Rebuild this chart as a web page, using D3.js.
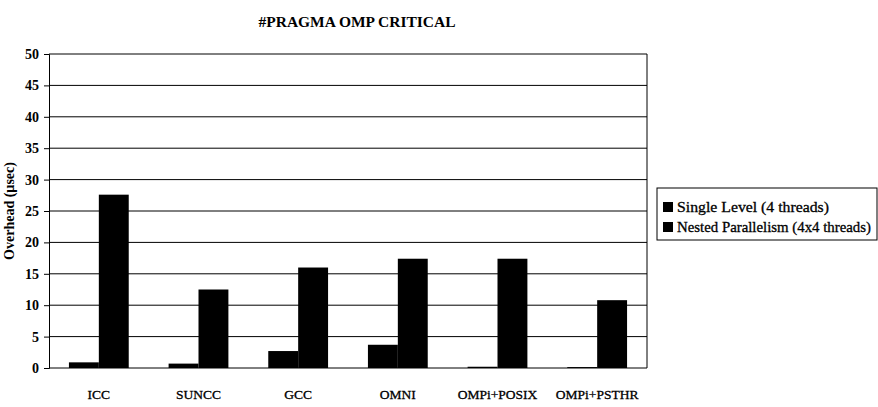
<!DOCTYPE html>
<html>
<head>
  <meta charset="utf-8">
  <title>#PRAGMA OMP CRITICAL</title>
  <script src="https://cdnjs.cloudflare.com/ajax/libs/d3/7.8.5/d3.min.js"></script>
  <style>
    body { margin: 0; background: #fff; }
    text { font-family: "Liberation Serif", "DejaVu Serif", serif; fill: #000; }
  </style>
</head>
<body>
<script>
const compilers = ['ICC', 'SUNCC', 'GCC', 'OMNI', 'OMPi+POSIX', 'OMPi+PSTHR'];
const seriesNames = ['Single Level (4 threads)', 'Nested Parallelism (4x4 threads)'];
const singleLevel = [0.9, 0.7, 2.7, 3.7, 0.2, 0.15];
const nested = [27.6, 12.5, 16.0, 17.4, 17.4, 10.8];
const yTicks = [0, 5, 10, 15, 20, 25, 30, 35, 40, 45, 50];

const width = 878;
const height = 407;
const plot = {left: 49, right: 647, top: 54, bottom: 368};

const svg = d3.select('body').append('svg')
  .attr('width', width)
  .attr('height', height);

const xScale = d3.scaleBand()
  .domain(compilers)
  .range([plot.left, plot.right])
  .paddingInner(0.4)
  .paddingOuter(0.2);

const inner = d3.scaleBand()
  .domain([0, 1])
  .range([0, xScale.bandwidth()]);

const yScale = d3.scaleLinear()
  .domain([0, 50])
  .range([plot.bottom, plot.top]);

// gridlines
svg.append('g')
  .selectAll('line')
  .data(yTicks)
  .enter()
  .append('line')
  .attr('x1', plot.left)
  .attr('x2', plot.right)
  .attr('y1', d => yScale(d))
  .attr('y2', d => yScale(d))
  .attr('stroke', '#000')
  .attr('stroke-width', 1);

// right border
svg.append('line')
  .attr('x1', plot.right).attr('x2', plot.right)
  .attr('y1', plot.top).attr('y2', plot.bottom)
  .attr('stroke', '#000');

// bars
const values = [singleLevel, nested];
const groups = svg.append('g')
  .selectAll('g')
  .data(compilers)
  .enter()
  .append('g')
  .attr('transform', d => `translate(${xScale(d)},0)`);

groups.selectAll('rect')
  .data((d, i) => values.map((v, s) => ({s: s, v: v[i]})))
  .enter()
  .append('rect')
  .attr('x', d => inner(d.s))
  .attr('width', inner.bandwidth())
  .attr('y', d => yScale(d.v))
  .attr('height', d => yScale(0) - yScale(d.v))
  .attr('fill', '#000');

// y axis
const yAxis = d3.axisLeft(yScale)
  .tickValues(yTicks)
  .tickSize(5)
  .tickPadding(5);

svg.append('g')
  .attr('transform', `translate(${plot.left},0)`)
  .call(yAxis)
  .call(g => g.selectAll('text')
    .attr('font-size', 14)
    .attr('font-weight', 'bold')
    .attr('font-family', '"Liberation Serif", serif'))
  .call(g => g.select('.domain').attr('stroke', '#000'));

// x axis labels
const xAxis = d3.axisBottom(xScale).tickSize(0).tickPadding(21);
svg.append('g')
  .attr('transform', `translate(0,${plot.bottom})`)
  .call(xAxis)
  .call(g => g.select('.domain').remove())
  .call(g => g.selectAll('text')
    .attr('font-size', 13.5)
    .attr('stroke', '#000')
    .attr('stroke-width', 0.3)
    .attr('font-family', '"Liberation Serif", serif'));

// title
svg.append('text')
  .attr('x', 357)
  .attr('y', 27)
  .attr('text-anchor', 'middle')
  .attr('font-size', 14.5)
  .attr('font-weight', 'bold')
  .attr('textLength', 197)
  .attr('lengthAdjust', 'spacingAndGlyphs')
  .text('#PRAGMA OMP CRITICAL');

// y label
svg.append('text')
  .attr('transform', `translate(14,${(plot.top + plot.bottom) / 2}) rotate(-90)`)
  .attr('text-anchor', 'middle')
  .attr('font-size', 14)
  .attr('font-weight', 'bold')
  .text('Overhead (\u00b5sec)');

// legend
const legend = svg.append('g').attr('transform', 'translate(657,188)');
legend.append('rect')
  .attr('x', 0).attr('y', 0)
  .attr('width', 220).attr('height', 52)
  .attr('fill', 'none')
  .attr('stroke', '#000');

const items = legend.selectAll('g.item')
  .data(seriesNames)
  .enter()
  .append('g')
  .attr('class', 'item')
  .attr('transform', (d, i) => `translate(6,${24 + i * 20})`);

items.append('rect')
  .attr('x', 0).attr('y', -10)
  .attr('width', 10).attr('height', 10)
  .attr('fill', '#000');

items.append('text')
  .attr('x', 14)
  .attr('y', 0)
  .attr('font-size', 15)
  .attr('stroke', '#000')
  .attr('stroke-width', 0.3)
  .attr('textLength', (d, i) => i === 0 ? 152 : 194)
  .attr('lengthAdjust', 'spacingAndGlyphs')
  .text(d => d);
</script>
</body>
</html>
